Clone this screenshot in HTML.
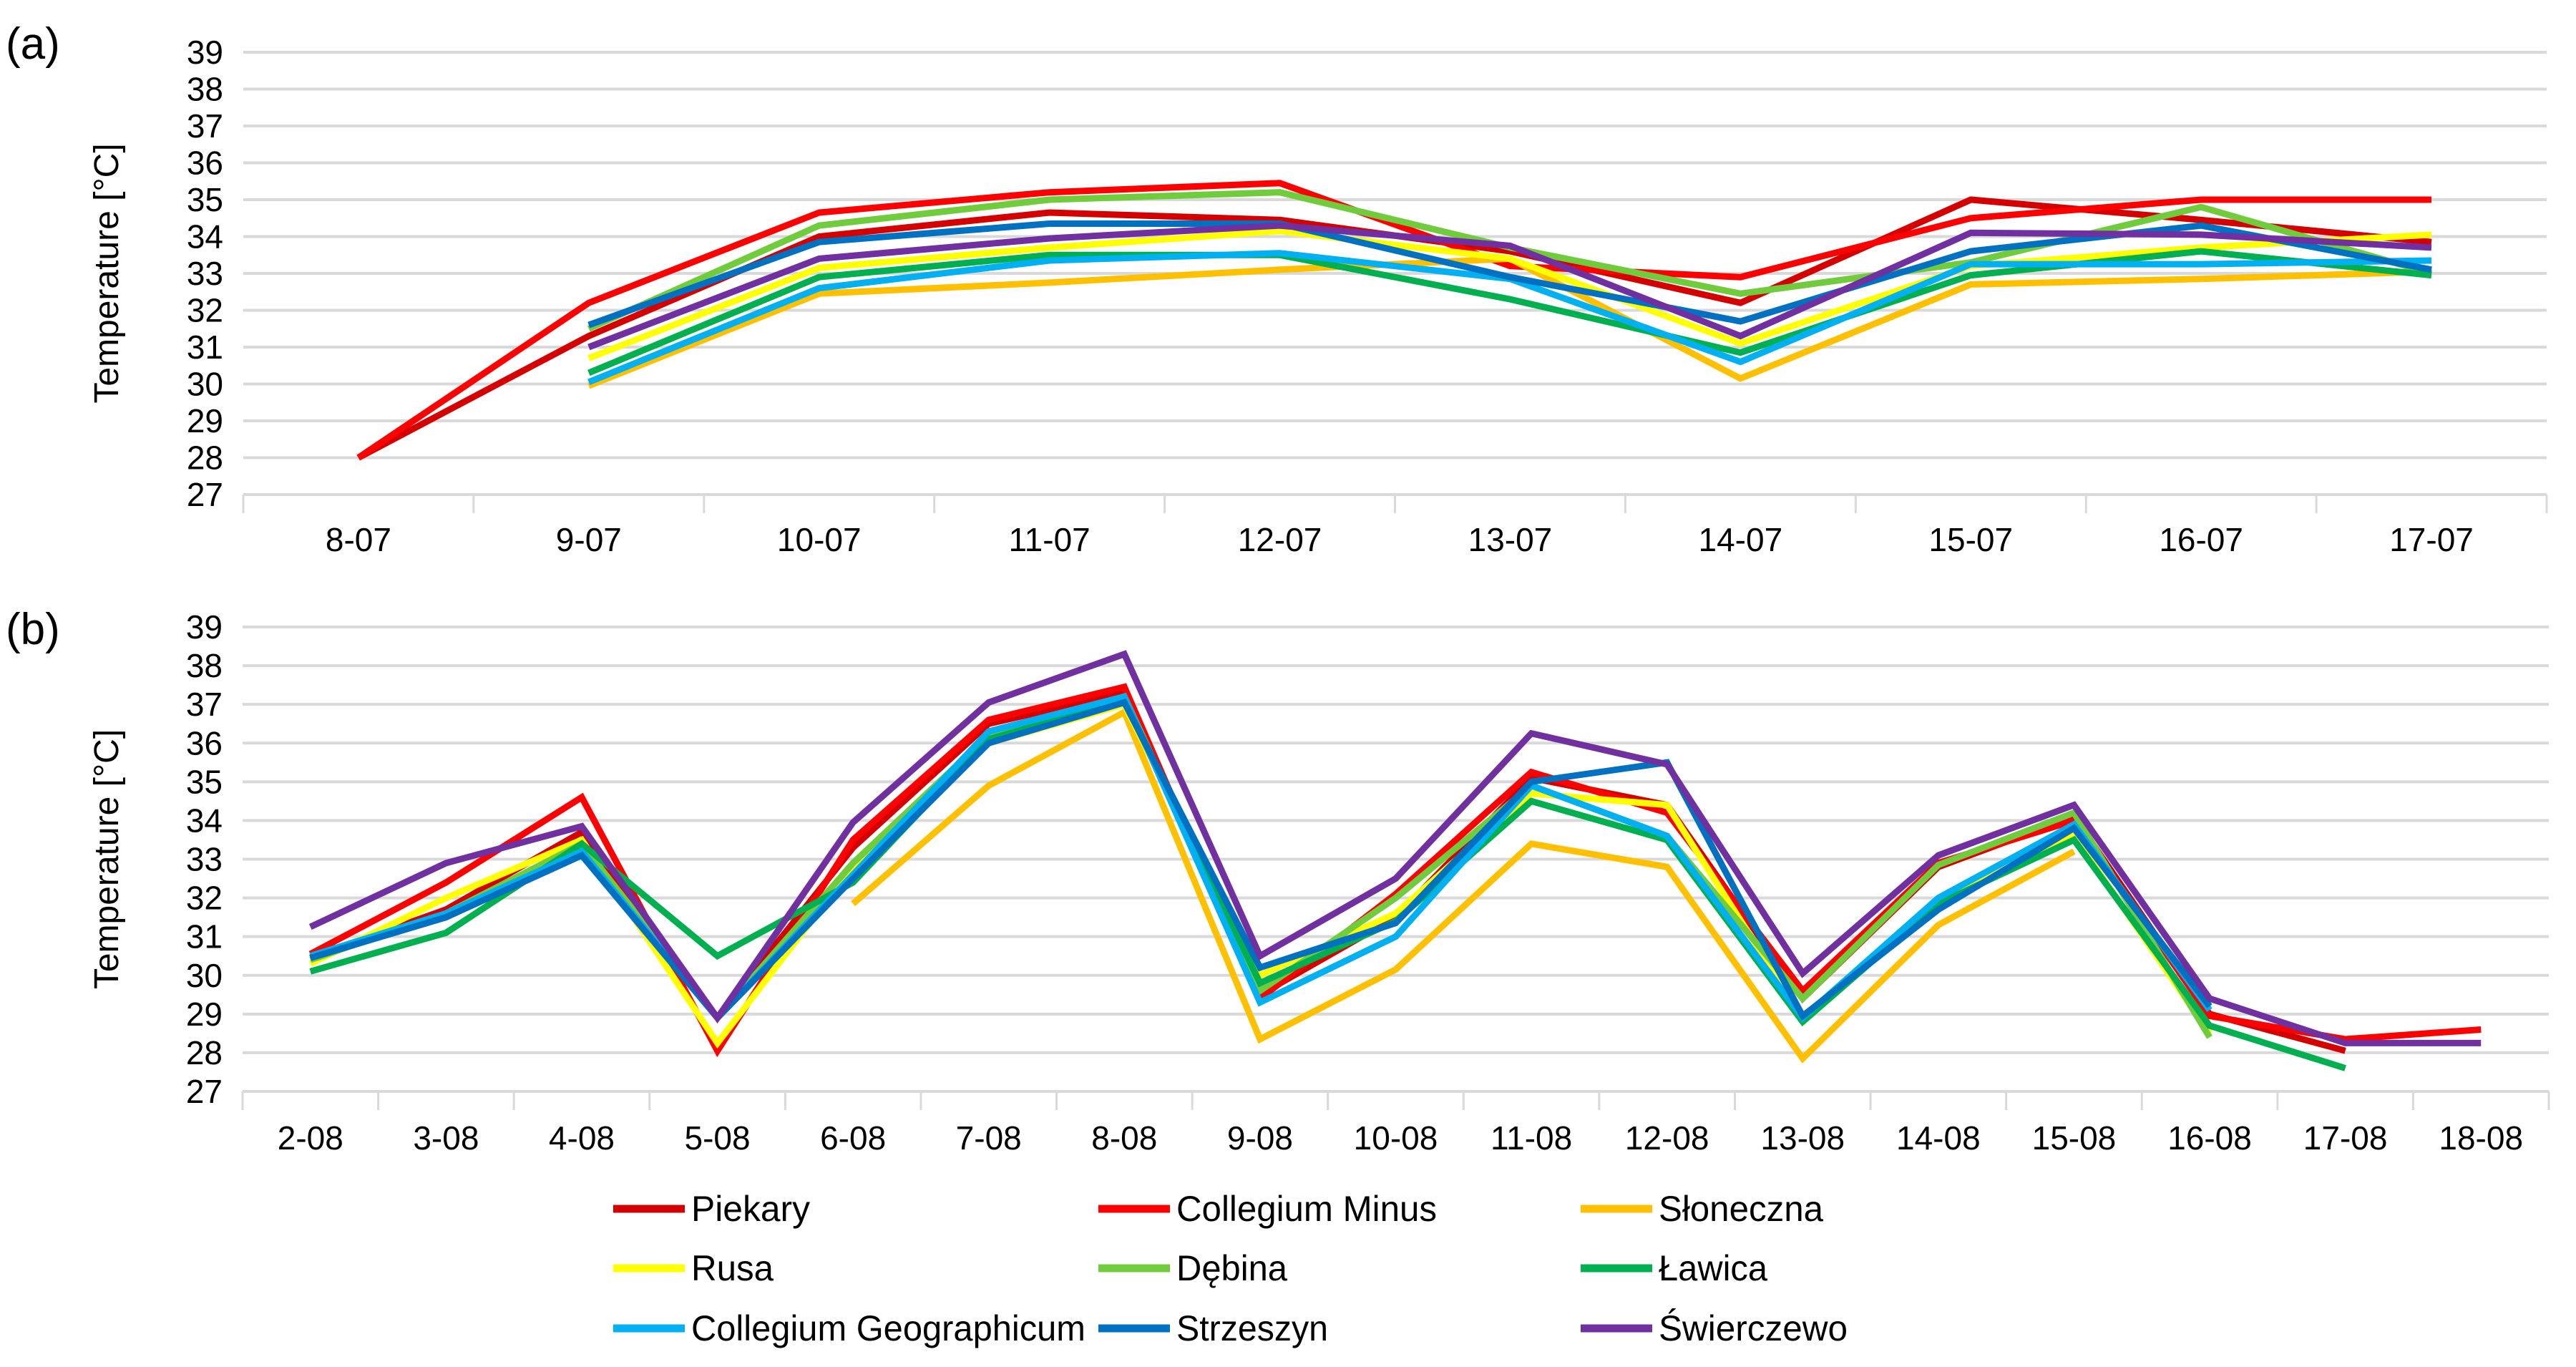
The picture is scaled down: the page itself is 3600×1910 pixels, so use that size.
<!DOCTYPE html>
<html><head><meta charset="utf-8"><style>
html,body{margin:0;padding:0;background:#fff;}
svg{display:block;font-family:"Liberation Sans Narrow","Liberation Sans",sans-serif;}
</style></head><body>
<svg id="chart" width="3600" height="1910" viewBox="0 0 3600 1910" xmlns="http://www.w3.org/2000/svg">
<text x="8" y="82" font-size="62" font-family="Liberation Sans, sans-serif">(a)</text>
<text x="8" y="900" font-size="62" font-family="Liberation Sans, sans-serif">(b)</text>
<g id="ga"></g>
<g id="gb"></g>
<g id="legend"></g>
</svg>
<script>
const seriesNames = ["Piekary","Collegium Minus","Słoneczna","Rusa","Dębina","Ławica","Collegium Geographicum","Strzeszyn","Świerczewo"];
const seriesColors = ["#D40000","#FF0000","#FFC000","#FFFF00","#70CC3C","#00B050","#00B0F0","#0070C0","#7030A0"];
const yTicks = [27,28,29,30,31,32,33,34,35,36,37,38,39];

const catsA = ["8-07","9-07","10-07","11-07","12-07","13-07","14-07","15-07","16-07","17-07"];
const piekaryA   = [28,31.3,34.0,34.65,34.45,33.6,32.2,35.0,34.45,33.85];
const cMinusA    = [28,32.2,34.65,35.2,35.45,33.2,32.9,34.5,35.0,35.0];
const sloA       = [null,29.95,32.45,32.75,33.1,33.4,30.15,32.7,32.85,33.05];
const rusaA      = [null,30.7,33.15,33.7,34.15,33.4,31.1,33.2,33.7,34.05];
const debinaA    = [null,31.5,34.3,35.0,35.2,33.7,32.45,33.3,34.8,33.0];
const lawicaA    = [null,30.3,32.9,33.5,33.5,32.3,30.85,32.95,33.6,32.95];
const cGeoA      = [null,30.05,32.6,33.35,33.55,32.85,30.6,33.25,33.25,33.35];
const strzeszynA = [null,31.6,33.85,34.35,34.35,32.9,31.7,33.6,34.3,33.1];
const swierA     = [null,31.0,33.4,33.95,34.3,33.75,31.3,34.1,34.05,33.7];

const catsB = ["2-08","3-08","4-08","5-08","6-08","7-08","8-08","9-08","10-08","11-08","12-08","13-08","14-08","15-08","16-08","17-08","18-08"];
const piekaryB   = [30.45,31.7,33.7,28.9,33.3,36.5,37.3,29.5,31.5,35.1,34.4,29.4,32.8,34.1,29.0,28.05,null];
const cMinusB    = [30.55,32.4,34.6,28.05,33.5,36.6,37.45,29.4,32.1,35.25,34.2,29.6,32.9,34.0,28.95,28.35,28.6];
const sloB       = [null,null,null,null,31.85,34.9,36.8,28.35,30.15,33.4,32.8,27.85,31.3,33.2,null,null,null];
const rusaB      = [30.3,32.0,33.5,28.25,32.8,36.0,37.0,30.0,31.6,34.7,34.4,28.9,31.9,33.6,28.5,null,null];
const debinaB    = [30.4,31.6,33.4,28.9,32.9,36.2,37.2,29.6,32.0,34.9,33.6,29.4,32.85,34.2,28.4,null,null];
const lawicaB    = [30.1,31.1,33.4,30.5,32.4,36.1,37.1,29.8,31.4,34.5,33.5,28.8,31.85,33.5,28.7,27.6,null];
const cGeoB      = [30.5,31.6,33.2,28.9,32.6,36.3,37.2,29.3,31.0,34.9,33.6,28.9,32.0,33.9,29.1,null,null];
const strzeszynB = [30.45,31.5,33.1,28.9,32.5,36.0,37.05,30.2,31.35,35.0,35.5,28.95,31.7,33.8,29.2,null,null];
const swierB     = [31.25,32.9,33.85,28.9,33.95,37.05,38.3,30.5,32.5,36.25,35.45,30.05,33.1,34.4,29.4,28.25,28.25];

const dataA = [piekaryA,cMinusA,sloA,rusaA,debinaA,lawicaA,cGeoA,strzeszynA,swierA];
const dataB = [piekaryB,cMinusB,sloB,rusaB,debinaB,lawicaB,cGeoB,strzeszynB,swierB];

const NS = "http://www.w3.org/2000/svg";
function mk(tag, attrs, parent){const e=document.createElementNS(NS,tag);for(const k in attrs)e.setAttribute(k,attrs[k]);parent.appendChild(e);return e;}

function drawChart(g, cats, data, box, key){
  const yScale = v => box.yBot - (v-27)/(39-27)*(box.yBot-box.yTop);
  const cw = (box.right-box.left)/cats.length;
  const xScale = i => box.left + cw*(i+0.5);
  yTicks.forEach(t=>{
    const y=yScale(t);
    const l=mk("line",{x1:box.left,x2:box.right,y1:y,y2:y,stroke:"#d9d9d9","stroke-width":4},g);
    
    
    const tx=mk("text",{x:box.left-28,y:y+16,"text-anchor":"end","font-size":46,fill:"#000"},g);
    tx.textContent=t;
    
    
  });
  for(let i=0;i<=cats.length;i++){
    const x=box.left+cw*i;
    const tk=mk("line",{x1:x,x2:x,y1:box.yBot,y2:box.yBot+26,stroke:"#d9d9d9","stroke-width":3},g);
    
    
  }
  cats.forEach((c,i)=>{
    const tx=mk("text",{x:xScale(i),y:box.labelY,"text-anchor":"middle","font-size":46,fill:"#000"},g);
    tx.textContent=c;
    
    
  });
  const tt=mk("text",{x:0,y:0,"text-anchor":"middle","font-size":48,fill:"#000","font-family":"Liberation Sans, sans-serif",transform:`translate(${box.titleX},${(box.yTop+box.yBot)/2}) rotate(-90)`},g);
  tt.textContent="Temperature [°C]";
  
  
  data.forEach((arr,si)=>{
    let d="";let pen=false;
    arr.forEach((v,i)=>{
      if(v===null){pen=false;return;}
      d+=(pen?"L":"M")+xScale(i).toFixed(1)+" "+yScale(v).toFixed(1)+" ";pen=true;
    });
    const p=mk("path",{d:d,fill:"none",stroke:seriesColors[si],"stroke-width":9,"stroke-linejoin":"miter","stroke-linecap":"butt"},g);
    
    
  });
}

drawChart(document.getElementById("ga"), catsA, dataA, {left:340,right:3559,yTop:73,yBot:691,labelY:770,titleX:165}, "a");
drawChart(document.getElementById("gb"), catsB, dataB, {left:339,right:3562,yTop:876,yBot:1525,labelY:1606,titleX:165}, "b");

const lg=document.getElementById("legend");
const colX=[857,1535,2209];
const rowY=[1689,1772,1856];
const legW=[166,364,230,115,155,152,551,212,264];
seriesNames.forEach((n,i)=>{
  const cx=colX[i%3], cy=rowY[Math.floor(i/3)];
  const l=mk("line",{x1:cx,x2:cx+100,y1:cy,y2:cy,stroke:seriesColors[i],"stroke-width":11},lg);
  
  
  const t=mk("text",{x:cx+109,y:cy+17,"font-size":50,fill:"#000",textLength:legW[i],lengthAdjust:"spacingAndGlyphs"},lg);
  t.textContent=n;
  
  
});
</script>
</body></html>
